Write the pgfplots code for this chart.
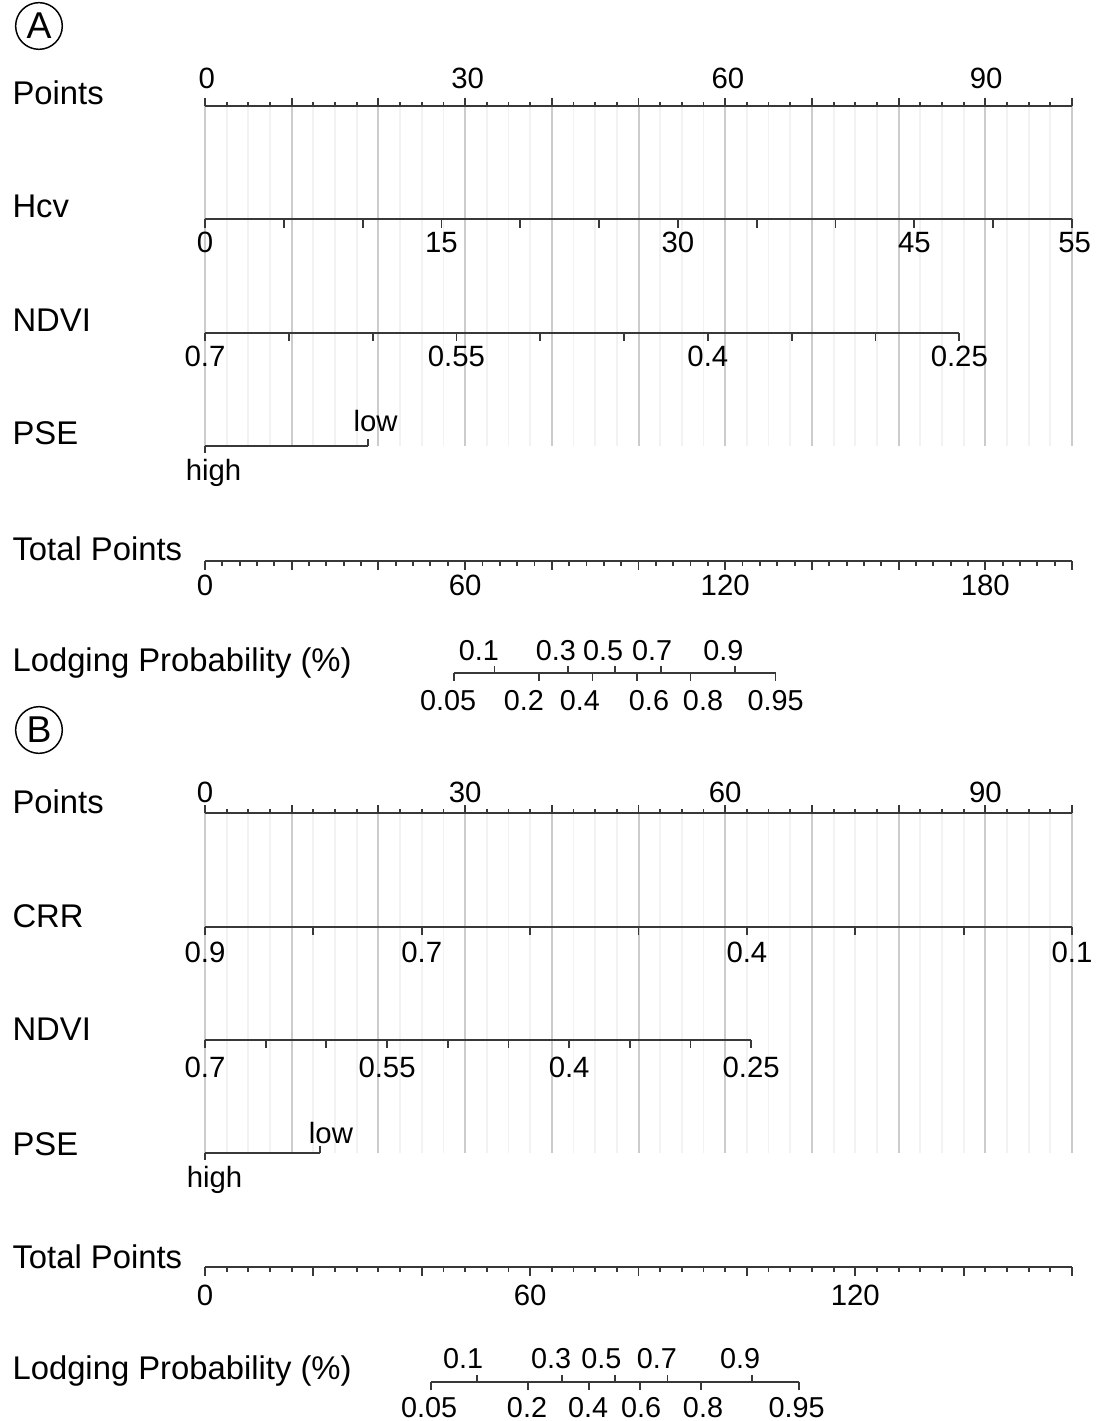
\documentclass[border=0pt]{standalone}
\usepackage{fontspec}
\setmainfont{Liberation Sans}
\usepackage{pgfplots}
\pgfplotsset{compat=1.18}
\definecolor{gridmaj}{gray}{0.80}
\definecolor{gridmin}{gray}{0.95}
\definecolor{scl}{gray}{0.22}
\pgfplotsset{
  scl/.style={draw=scl, line width=0.75pt, mark=none},
  tk/.style={draw=scl, line width=0.7pt, mark=none},
  gmaj/.style={draw=gridmaj, line width=0.75pt, mark=none},
  gmin/.style={draw=gridmin, line width=0.7pt, mark=none},
  lbl/.style={only marks, mark=none, nodes near coords, point meta=explicit symbolic,
    nodes near coords align={anchor=base},
    every node near coord/.append style={inner sep=0pt, text=black, font=\fontsize{11}{13}\selectfont}},
  rowlbl/.style={only marks, mark=none, nodes near coords, point meta=explicit symbolic,
    nodes near coords align={anchor=base west},
    every node near coord/.append style={inner sep=0pt, text=black, font=\fontsize{12.3}{14}\selectfont}},
}
\begin{document}
\begin{tikzpicture}
\begin{axis}[
  width=411.375pt, height=532.875pt, scale only axis,
  xmin=-23.645, xmax=102.884, ymin=0, ymax=1421, y dir=reverse,
  hide axis, clip=false,
]
% ---------------- Panel A ----------------
% grid
\addplot[gmin, quiver={u=0,v=340}] coordinates {(2.5,106)(5,106)(7.5,106)(12.5,106)(15,106)(17.5,106)(22.5,106)(25,106)(27.5,106)(32.5,106)(35,106)(37.5,106)(42.5,106)(45,106)(47.5,106)(52.5,106)(55,106)(57.5,106)(62.5,106)(65,106)(67.5,106)(72.5,106)(75,106)(77.5,106)(82.5,106)(85,106)(87.5,106)(92.5,106)(95,106)(97.5,106)};
\addplot[gmaj, quiver={u=0,v=340}] coordinates {(0,106)(10,106)(20,106)(30,106)(40,106)(50,106)(60,106)(70,106)(80,106)(90,106)(100,106)};
% Points
\addplot[scl] coordinates {(0,106)(100,106)};
\addplot[tk, quiver={u=0,v=-8}] coordinates {(0,106)(10,106)(20,106)(30,106)(40,106)(50,106)(60,106)(70,106)(80,106)(90,106)(100,106)};
\addplot[tk, quiver={u=0,v=-4}] coordinates {(2.5,106)(5,106)(7.5,106)(12.5,106)(15,106)(17.5,106)(22.5,106)(25,106)(27.5,106)(32.5,106)(35,106)(37.5,106)(42.5,106)(45,106)(47.5,106)(52.5,106)(55,106)(57.5,106)(62.5,106)(65,106)(67.5,106)(72.5,106)(75,106)(77.5,106)(82.5,106)(85,106)(87.5,106)(92.5,106)(95,106)(97.5,106)};
\addplot[lbl] coordinates {(0.2,89)[0] (30.3,89)[30] (60.3,89)[60] (90.1,89)[90]};
% Hcv (0..55)
\addplot[scl] coordinates {(0,219)(100,219)};
\addplot[tk, quiver={u=0,v=9}] coordinates {(0,219)(9.0909,219)(18.1818,219)(27.2727,219)(36.3636,219)(45.4545,219)(54.5455,219)(63.6364,219)(72.7273,219)(81.8182,219)(90.9091,219)(100,219)};
\addplot[lbl] coordinates {(0,253)[0] (27.2727,253)[15] (54.5455,253)[30] (81.8182,253)[45] (100.3,253)[55]};
% NDVI (0.7..0.25)
\addplot[scl] coordinates {(0,333)(87,333)};
\addplot[tk, quiver={u=0,v=8}] coordinates {(0,333)(9.6667,333)(19.3333,333)(29,333)(38.6667,333)(48.3333,333)(58,333)(67.6667,333)(77.3333,333)(87,333)};
\addplot[lbl] coordinates {(0,367)[0.7] (29,367)[0.55] (58,367)[0.4] (87,367)[0.25]};
% PSE
\addplot[scl] coordinates {(0,446)(18.79,446)};
\addplot[tk, quiver={u=0,v=7}] coordinates {(0,446)};
\addplot[tk, quiver={u=0,v=-7}] coordinates {(18.79,446)};
\addplot[lbl] coordinates {(19.67,432)[low] (0.98,481)[high]};
% Total Points (0..200)
\addplot[scl] coordinates {(0,561)(100,561)};
\addplot[tk, quiver={u=0,v=9}] coordinates {(0,561)(10,561)(20,561)(30,561)(40,561)(50,561)(60,561)(70,561)(80,561)(90,561)(100,561)};
\addplot[tk, quiver={u=0,v=5}] coordinates {(2,561)(4,561)(6,561)(8,561)(12,561)(14,561)(16,561)(18,561)(22,561)(24,561)(26,561)(28,561)(32,561)(34,561)(36,561)(38,561)(42,561)(44,561)(46,561)(48,561)(52,561)(54,561)(56,561)(58,561)(62,561)(64,561)(66,561)(68,561)(72,561)(74,561)(76,561)(78,561)(82,561)(84,561)(86,561)(88,561)(92,561)(94,561)(96,561)(98,561)};
\addplot[lbl] coordinates {(0,595)[0] (30,595)[60] (60,595)[120] (90,595)[180]};
% Lodging probability
\addplot[scl] coordinates {(28.69,673)(65.80,673)};
\addplot[tk, quiver={u=0,v=-7}] coordinates {(33.39,673)(41.90,673)(47.24,673)(52.58,673)(61.10,673)};
\addplot[tk, quiver={u=0,v=8}] coordinates {(28.69,673)(38.50,673)(44.69,673)(49.79,673)(55.99,673)(65.80,673)};
\addplot[lbl, every node near coord/.append style={font=\fontsize{10.8}{12}\selectfont}] coordinates {(31.60,660)[0.1] (40.48,660)[0.3] (45.91,660)[0.5] (51.56,660)[0.7] (59.80,660)[0.9]};
\addplot[lbl, every node near coord/.append style={font=\fontsize{10.8}{12}\selectfont}] coordinates {(28.03,710)[0.05] (36.79,710)[0.2] (43.25,710)[0.4] (51.21,710)[0.6] (57.44,710)[0.8] (65.82,710)[0.95]};
% row labels A
\addplot[rowlbl] coordinates {(-22.26,105)[Points] (-22.26,218)[Hcv] (-22.26,332)[NDVI] (-22.26,445)[PSE] (-22.26,560)[Total Points] (-22.26,671)[Lodging Probability (\%)]};
% ---------------- Panel B ----------------
\addplot[gmin, quiver={u=0,v=340}] coordinates {(2.5,813)(5,813)(7.5,813)(12.5,813)(15,813)(17.5,813)(22.5,813)(25,813)(27.5,813)(32.5,813)(35,813)(37.5,813)(42.5,813)(45,813)(47.5,813)(52.5,813)(55,813)(57.5,813)(62.5,813)(65,813)(67.5,813)(72.5,813)(75,813)(77.5,813)(82.5,813)(85,813)(87.5,813)(92.5,813)(95,813)(97.5,813)};
\addplot[gmaj, quiver={u=0,v=340}] coordinates {(0,813)(10,813)(20,813)(30,813)(40,813)(50,813)(60,813)(70,813)(80,813)(90,813)(100,813)};
% Points
\addplot[scl] coordinates {(0,813)(100,813)};
\addplot[tk, quiver={u=0,v=-8}] coordinates {(0,813)(10,813)(20,813)(30,813)(40,813)(50,813)(60,813)(70,813)(80,813)(90,813)(100,813)};
\addplot[tk, quiver={u=0,v=-4}] coordinates {(2.5,813)(5,813)(7.5,813)(12.5,813)(15,813)(17.5,813)(22.5,813)(25,813)(27.5,813)(32.5,813)(35,813)(37.5,813)(42.5,813)(45,813)(47.5,813)(52.5,813)(55,813)(57.5,813)(62.5,813)(65,813)(67.5,813)(72.5,813)(75,813)(77.5,813)(82.5,813)(85,813)(87.5,813)(92.5,813)(95,813)(97.5,813)};
\addplot[lbl] coordinates {(0,802)[0] (30,802)[30] (60,802)[60] (90,802)[90]};
% CRR (0.9..0.1)
\addplot[scl] coordinates {(0,927)(100,927)};
\addplot[tk, quiver={u=0,v=8}] coordinates {(0,927)(12.5,927)(25,927)(37.5,927)(50,927)(62.5,927)(75,927)(87.5,927)(100,927)};
\addplot[lbl] coordinates {(0,962)[0.9] (25,962)[0.7] (62.5,962)[0.4] (100,962)[0.1]};
% NDVI (0.7..0.25)
\addplot[scl] coordinates {(0,1040)(63,1040)};
\addplot[tk, quiver={u=0,v=8}] coordinates {(0,1040)(7,1040)(14,1040)(21,1040)(28,1040)(35,1040)(42,1040)(49,1040)(56,1040)(63,1040)};
\addplot[lbl] coordinates {(0,1077)[0.7] (21,1077)[0.55] (42,1077)[0.4] (63,1077)[0.25]};
% PSE
\addplot[scl] coordinates {(0,1153)(13.26,1153)};
\addplot[tk, quiver={u=0,v=7}] coordinates {(0,1153)};
\addplot[tk, quiver={u=0,v=-7}] coordinates {(13.26,1153)};
\addplot[lbl] coordinates {(14.53,1143)[low] (1.1,1187)[high]};
% Total Points (0..160)
\addplot[scl] coordinates {(0,1267)(100,1267)};
\addplot[tk, quiver={u=0,v=9}] coordinates {(0,1267)(12.5,1267)(25,1267)(37.5,1267)(50,1267)(62.5,1267)(75,1267)(87.5,1267)(100,1267)};
\addplot[tk, quiver={u=0,v=5}] coordinates {(2.5,1267)(5,1267)(7.5,1267)(10,1267)(15,1267)(17.5,1267)(20,1267)(22.5,1267)(27.5,1267)(30,1267)(32.5,1267)(35,1267)(40,1267)(42.5,1267)(45,1267)(47.5,1267)(52.5,1267)(55,1267)(57.5,1267)(60,1267)(65,1267)(67.5,1267)(70,1267)(72.5,1267)(77.5,1267)(80,1267)(82.5,1267)(85,1267)(90,1267)(92.5,1267)(95,1267)(97.5,1267)};
\addplot[lbl] coordinates {(0,1305)[0] (37.5,1305)[60] (75,1305)[120]};
% Lodging probability
\addplot[scl] coordinates {(26.02,1382)(68.47,1382)};
\addplot[tk, quiver={u=0,v=-7}] coordinates {(31.41,1382)(41.14,1382)(47.24,1382)(53.34,1382)(63.08,1382)};
\addplot[tk, quiver={u=0,v=8}] coordinates {(26.02,1382)(37.24,1382)(44.33,1382)(50.16,1382)(57.24,1382)(68.47,1382)};
\addplot[lbl, every node near coord/.append style={font=\fontsize{10.8}{12}\selectfont}] coordinates {(29.76,1368)[0.1] (39.91,1368)[0.3] (45.73,1368)[0.5] (52.13,1368)[0.7] (61.71,1368)[0.9]};
\addplot[lbl, every node near coord/.append style={font=\fontsize{10.8}{12}\selectfont}] coordinates {(25.84,1417)[0.05] (37.14,1417)[0.2] (44.18,1417)[0.4] (50.29,1417)[0.6] (57.44,1417)[0.8] (68.24,1417)[0.95]};
% row labels B
\addplot[rowlbl] coordinates {(-22.26,813)[Points] (-22.26,927)[CRR] (-22.26,1040)[NDVI] (-22.26,1155)[PSE] (-22.26,1268)[Total Points] (-22.26,1379)[Lodging Probability (\%)]};
% panel letters
\addplot[only marks, mark=none, nodes near coords, point meta=explicit symbolic,
  nodes near coords align={anchor=center},
  every node near coord/.append style={circle, draw=black, line width=0.55pt, minimum size=17.5pt, inner sep=0pt, text=black, font=\fontsize{14}{16}\selectfont}]
  coordinates {(-19.15,26)[A] (-19.15,730)[B]};
\path (rel axis cs:0,0) (rel axis cs:1,1);
\end{axis}
\end{tikzpicture}
\end{document}
